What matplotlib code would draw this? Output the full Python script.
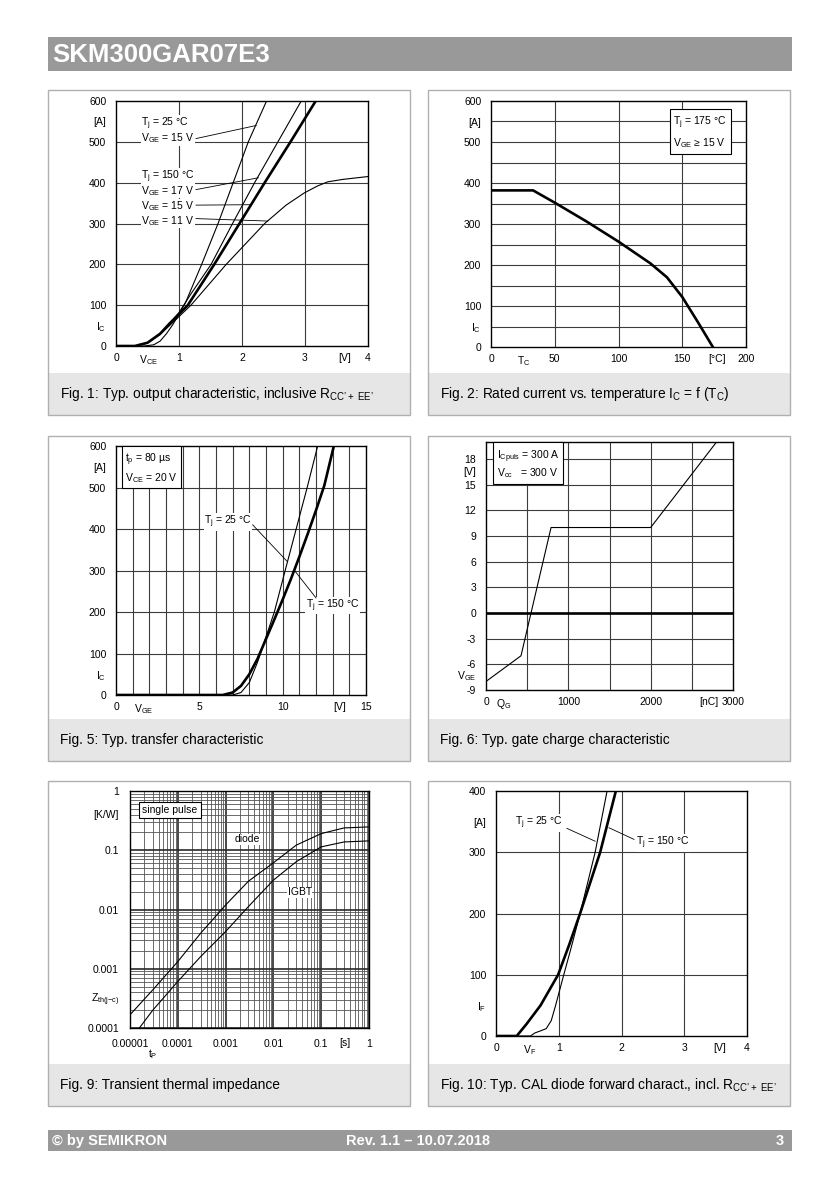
import matplotlib
matplotlib.use('Agg')
import matplotlib.pyplot as plt
from matplotlib.patches import Rectangle

plt.rcParams['font.family'] = ['Liberation Sans', 'DejaVu Sans']
plt.rcParams['mathtext.fontset'] = 'custom'
plt.rcParams['mathtext.rm'] = 'Liberation Sans'
plt.rcParams['mathtext.it'] = 'Liberation Sans:italic'
plt.rcParams['mathtext.bf'] = 'Liberation Sans:bold'

W, H = 836, 1186

# ---- Fig. 1 output characteristic ----
f1_25_v = [0, 0.45, 0.6, 0.7, 0.8, 0.9, 1.0, 1.1, 1.36, 1.62, 1.86, 2.1, 2.39]
f1_25_i = [0, 0, 3, 12, 30, 52, 78, 105, 200, 300, 400, 500, 600]
f1_17_v = [0, 0.3, 0.5, 0.7, 0.85, 1.0, 1.2, 1.51, 1.85, 2.2, 2.57, 2.94]
f1_17_i = [0, 0, 8, 30, 55, 82, 130, 200, 300, 400, 500, 600]
f1_15_v = [0, 0.3, 0.5, 0.7, 0.85, 1.0, 1.14, 1.56, 1.96, 2.36, 2.77, 3.17]
f1_15_i = [0, 0, 8, 30, 55, 78, 100, 200, 300, 400, 500, 600]
f1_11_v = [0, 0.3, 0.5, 0.7, 0.85, 1.0, 1.19, 1.75, 2.36, 2.7, 2.99, 3.2, 3.36, 3.6, 4.0]
f1_11_i = [0, 0, 7, 28, 50, 72, 100, 200, 300, 345, 375, 392, 402, 408, 415]

# ---- Fig. 2 rated current vs temperature ----
f2_t = [0, 33, 50, 75, 100, 125, 138, 150, 162, 174]
f2_i = [382, 382, 352, 306, 257, 204, 170, 122, 62, 0]

# ---- Fig. 5 transfer characteristic ----
f5_150_v = [0, 6.4, 7.0, 7.5, 8.0, 8.5, 9.0, 9.5, 10.0, 10.5, 11.0, 11.5, 12.0, 12.5, 13.07]
f5_150_i = [0, 0, 6, 22, 50, 88, 135, 182, 230, 280, 333, 388, 445, 505, 600]
f5_25_v = [0, 7.0, 7.5, 8.0, 8.5, 8.9, 9.5, 10.15, 10.81, 11.47, 12.1]
f5_25_i = [0, 0, 6, 30, 80, 128, 200, 300, 400, 500, 600]

# ---- Fig. 6 gate charge ----
f6_q = [0, 425, 790, 2000, 2800]
f6_v = [-8, -5, 10, 10, 20]

# ---- Fig. 9 transient thermal impedance ----
f9_t = [1e-5, 3e-5, 1e-4, 3e-4, 1e-3, 3e-3, 1e-2, 3e-2, 1e-1, 3e-1, 1]
f9_diode = [1.67e-4, 4.4e-4, 1.32e-3, 3.97e-3, 0.0119, 0.030, 0.0614, 0.122, 0.191, 0.238, 0.248]
f9_igbt_t = [1.57e-5, 3e-5, 1e-4, 3e-4, 1e-3, 3e-3, 1e-2, 3e-2, 1e-1, 3e-1, 1]
f9_igbt = [1e-4, 2.0e-4, 6.1e-4, 1.6e-3, 4.24e-3, 0.0112, 0.0313, 0.064, 0.114, 0.138, 0.144]

# ---- Fig. 10 diode forward characteristic ----
f10_150_v = [0, 0.33, 0.49, 0.71, 0.99, 1.17, 1.34, 1.66, 1.91]
f10_150_i = [0, 0, 20, 50, 100, 150, 200, 300, 400]
f10_25_v = [0, 0.55, 0.62, 0.7, 0.8, 0.88, 0.95, 1.08, 1.2, 1.34, 1.58, 1.77]
f10_25_i = [0, 0, 5, 8, 12, 25, 50, 100, 145, 200, 300, 400]

GRID = '#3c3c3c'
THIN = 0.8
THICK = 1.9
FS = 7.5
WHITE_BG = dict(fc='white', ec='none', pad=0.4)
BOX = dict(boxstyle='square,pad=0.35', fc='white', ec='black', lw=0.8)

fig = plt.figure(figsize=(W / 100, H / 100), dpi=100)
bg = fig.add_axes([0, 0, 1, 1])
bg.set_xlim(0, W)
bg.set_ylim(H, 0)
bg.axis('off')

# header / footer
bg.add_patch(Rectangle((48, 37), 744, 34, fc='#999999', ec='none'))
bg.text(52, 55, 'SKM300GAR07E3', color='white', fontsize=18.5, fontweight='bold', va='center')
bg.add_patch(Rectangle((48, 1130), 744, 21, fc='#999999', ec='none'))
bg.text(52, 1141, '© by SEMIKRON', color='white', fontsize=10.5, fontweight='bold', va='center')
bg.text(418, 1141, 'Rev. 1.1 – 10.07.2018', color='white', fontsize=10.5, fontweight='bold', va='center', ha='center')
bg.text(784, 1141, '3', color='white', fontsize=10.5, fontweight='bold', va='center', ha='right')

captions = [
    (48, 90, r"Fig. 1: Typ. output characteristic, inclusive R$_\mathrm{CC’+\ EE’}$"),
    (428, 90, r"Fig. 2: Rated current vs. temperature I$_\mathrm{C}$ = f (T$_\mathrm{C}$)"),
    (48, 436, "Fig. 5: Typ. transfer characteristic"),
    (428, 436, "Fig. 6: Typ. gate charge characteristic"),
    (48, 781, "Fig. 9: Transient thermal impedance"),
    (428, 781, r"Fig. 10: Typ. CAL diode forward charact., incl. R$_\mathrm{CC’+\ EE’}$"),
]
for x0, y0, cap in captions:
    bg.add_patch(Rectangle((x0, y0 + 283), 362, 42, fc='#e6e6e6', ec='none'))
    bg.add_patch(Rectangle((x0, y0), 362, 325, fc='none', ec='#b0b0b0', lw=1.0))
    bg.text(x0 + 12, y0 + 304, cap, fontsize=9.9, va='center', ha='left')


def px_axes(l, t, r, b):
    return fig.add_axes([l / W, 1 - b / H, (r - l) / W, (b - t) / H])


def style(ax, xgrid=None, ygrid=None):
    for s in ax.spines.values():
        s.set_linewidth(1.0)
        s.set_color('black')
    ax.xaxis.remove_overlapping_locs = False
    ax.yaxis.remove_overlapping_locs = False
    ax.tick_params(which='both', length=0, labelsize=FS)
    ax.tick_params(axis='x', pad=5)
    ax.tick_params(axis='y', pad=7)
    if xgrid is not None:
        ax.set_xticks(xgrid, minor=True)
    if ygrid is not None:
        ax.set_yticks(ygrid, minor=True)
    ax.grid(which='minor', color=GRID, lw=0.8)
    ax.set_axisbelow(True)
    ax.set_facecolor('white')


# ---- Fig. 1 ----
ax1 = px_axes(116, 101, 368, 346)
ax1.set_xlim(0, 4)
ax1.set_ylim(0, 600)
style(ax1, [1, 2, 3], [100, 200, 300, 400, 500])
ax1.set_xticks([0, 0.52, 1, 2, 3, 3.63, 4], ['0', r'V$_\mathrm{CE}$', '1', '2', '3', '[V]', '4'])
ax1.set_yticks([0, 50, 100, 200, 300, 400, 500, 550, 600],
               ['0', r'I$_\mathrm{C}$', '100', '200', '300', '400', '500', '[A]', '600'])
ax1.plot(f1_25_v, f1_25_i, color='black', lw=THIN)
ax1.plot(f1_17_v, f1_17_i, color='black', lw=THIN)
ax1.plot(f1_15_v, f1_15_i, color='black', lw=THICK)
ax1.plot(f1_11_v, f1_11_i, color='black', lw=THIN)
for y, s in [(545, r'T$_\mathrm{j}$ = 25 °C'), (508, r'V$_\mathrm{GE}$ = 15 V'),
             (414, r'T$_\mathrm{j}$ = 150 °C'), (380, r'V$_\mathrm{GE}$ = 17 V'),
             (343, r'V$_\mathrm{GE}$ = 15 V'), (307, r'V$_\mathrm{GE}$ = 11 V')]:
    ax1.text(0.40, y, s, fontsize=FS, va='center', ha='left', bbox=WHITE_BG)
for (xa, ya), (xb, yb) in [((1.27, 508), (2.225, 540)), ((1.27, 383), (2.26, 412)),
                           ((1.27, 345), (2.12, 346)), ((1.27, 312), (2.41, 306))]:
    ax1.plot([xa, xb], [ya, yb], color='black', lw=0.6, zorder=4)

# ---- Fig. 2 ----
ax2 = px_axes(491, 101, 746, 347)
ax2.set_xlim(0, 200)
ax2.set_ylim(0, 600)
style(ax2, [50, 100, 150], list(range(50, 600, 50)))
ax2.set_xticks([0, 26, 50, 100, 150, 177, 200], ['0', r'T$_\mathrm{C}$', '50', '100', '150', '[°C]', '200'])
ax2.set_yticks([0, 50, 100, 200, 300, 400, 500, 550, 600],
               ['0', r'I$_\mathrm{C}$', '100', '200', '300', '400', '500', '[A]', '600'])
ax2.plot(f2_t, f2_i, color='black', lw=THICK)
ax2.text(143, 523, 'T$_\\mathrm{j}$ = 175 °C\nV$_\\mathrm{GE}$ ≥ 15 V', fontsize=FS, va='center',
         ha='left', bbox=BOX, linespacing=1.5)

# ---- Fig. 5 ----
ax5 = px_axes(116, 446, 366, 695)
ax5.set_xlim(0, 15)
ax5.set_ylim(0, 600)
style(ax5, list(range(1, 15)), [100, 200, 300, 400, 500])
ax5.set_xticks([0, 1.64, 5, 10, 13.4, 15], ['0', r'V$_\mathrm{GE}$', '5', '10', '[V]', '15'])
ax5.set_yticks([0, 50, 100, 200, 300, 400, 500, 550, 600],
               ['0', r'I$_\mathrm{C}$', '100', '200', '300', '400', '500', '[A]', '600'])
ax5.plot(f5_25_v, f5_25_i, color='black', lw=THIN)
ax5.plot(f5_150_v, f5_150_i, color='black', lw=THICK)
ax5.text(6.72, 417, r'T$_\mathrm{j}$ = 25 °C', fontsize=FS, va='center', ha='center', bbox=WHITE_BG)
ax5.text(13.0, 216, r'T$_\mathrm{j}$ = 150 °C', fontsize=FS, va='center', ha='center', bbox=WHITE_BG)
ax5.plot([8.2, 10.27], [410, 322], color='black', lw=0.6, zorder=4)
ax5.plot([12.0, 10.71], [234, 300], color='black', lw=0.6, zorder=4)
ax5.text(0.55, 547, 't$_\\mathrm{p}$ = 80 µs\nV$_\\mathrm{CE}$ = 20 V', fontsize=FS, va='center',
         ha='left', bbox=BOX, linespacing=1.3)

# ---- Fig. 6 ----
ax6 = px_axes(486, 442, 733, 690)
ax6.set_xlim(0, 3000)
ax6.set_ylim(-9, 20)
style(ax6, [500, 1000, 1500, 2000, 2500], [-6, -3, 3, 6, 9, 12, 15, 18])
ax6.set_xticks([0, 215, 1000, 2000, 2704, 3000], ['0', r'Q$_\mathrm{G}$', '1000', '2000', '[nC]', '3000'])
ax6.set_yticks([-9, -7.2, -6, -3, 0, 3, 6, 9, 12, 15, 16.6, 18],
               ['-9', r'V$_\mathrm{GE}$', '-6', '-3', '0', '3', '6', '9', '12', '15', '[V]', '18'])
ax6.axhline(0, color='black', lw=THICK)
ax6.plot(f6_q, f6_v, color='black', lw=THIN)
ax6.text(130, 17.4, 'I$_\\mathrm{Cpuls}$ = 300 A\nV$_\\mathrm{cc}$   = 300 V', fontsize=FS, va='center',
         ha='left', bbox=BOX, linespacing=1.2)

# ---- Fig. 9 ----
ax9 = px_axes(130, 791, 369, 1028)
ax9.set_xscale('log')
ax9.set_yscale('log')
ax9.set_xlim(1e-5, 1)
ax9.set_ylim(1e-4, 1)
for s in ax9.spines.values():
    s.set_linewidth(1.0)
ax9.tick_params(which='both', length=0, labelsize=FS)
ax9.tick_params(axis='x', pad=8)
ax9.tick_params(axis='y', pad=8)
xt = [1e-5, 1e-4, 1e-3, 1e-2, 1e-1, 1]
ax9.set_xticks(xt, ['0.00001', '0.0001', '0.001', '0.01', '0.1', '1'])
ax9.set_xticks([k * d for d in xt[:-1] for k in range(2, 10)], minor=True)
ax9.set_xticklabels([], minor=True)
yt = [1e-4, 1e-3, 1e-2, 1e-1, 1]
ax9.set_yticks(yt, ['0.0001', '0.001', '0.01', '0.1', '1'])
ax9.set_yticks([k * d for d in yt[:-1] for k in range(2, 10)], minor=True)
ax9.set_yticklabels([], minor=True)
ax9.grid(which='major', color='#2a2a2a', lw=1.2)
ax9.grid(which='minor', color='#555555', lw=0.6)
ax9.set_axisbelow(True)
ax9.annotate('[K/W]', xy=(1e-5, 0.39), xytext=(-11, 0), textcoords='offset pixels',
             fontsize=FS, ha='right', va='center', annotation_clip=False)
ax9.annotate(r'Z$_\mathrm{th(j{-}c)}$', xy=(1e-5, 3.0e-4), xytext=(-11, 0), textcoords='offset pixels',
             fontsize=FS, ha='right', va='center', annotation_clip=False)
ax9.annotate('[s]', xy=(0.31, 1e-4), xytext=(0, -15), textcoords='offset pixels',
             fontsize=FS, ha='center', va='center', annotation_clip=False)
ax9.annotate(r't$_\mathrm{P}$', xy=(3e-5, 1e-4), xytext=(0, -26), textcoords='offset pixels',
             fontsize=FS, ha='center', va='center', annotation_clip=False)
ax9.plot(f9_t, f9_diode, color='black', lw=THIN)
ax9.plot(f9_igbt_t, f9_igbt, color='black', lw=THIN)
ax9.text(1.8e-5, 0.473, 'single pulse', fontsize=FS, va='center', ha='left',
         bbox=dict(boxstyle='square,pad=0.3', fc='white', ec='black', lw=0.8))
ax9.text(2.8e-3, 0.152, 'diode', fontsize=FS, va='center', ha='center', bbox=WHITE_BG)
ax9.text(0.0356, 0.0195, 'IGBT', fontsize=FS, va='center', ha='center', bbox=WHITE_BG)

# ---- Fig. 10 ----
ax10 = px_axes(496, 791, 747, 1036)
ax10.set_xlim(0, 4)
ax10.set_ylim(0, 400)
style(ax10, [1, 2, 3], [100, 200, 300])
ax10.set_xticks([0, 0.54, 1, 2, 3, 3.56, 4], ['0', r'V$_\mathrm{F}$', '1', '2', '3', '[V]', '4'])
ax10.set_yticks([0, 50, 100, 200, 300, 350, 400],
                ['0', r'I$_\mathrm{F}$', '100', '200', '300', '[A]', '400'])
ax10.plot(f10_25_v, f10_25_i, color='black', lw=THIN)
ax10.plot(f10_150_v, f10_150_i, color='black', lw=THICK)
ax10.text(0.68, 348, r'T$_\mathrm{j}$ = 25 °C', fontsize=FS, va='center', ha='center', bbox=WHITE_BG)
ax10.text(2.66, 315, r'T$_\mathrm{j}$ = 150 °C', fontsize=FS, va='center', ha='center', bbox=WHITE_BG)
ax10.plot([1.13, 1.58], [339, 318], color='black', lw=0.6, zorder=4)
ax10.plot([2.2, 1.80], [321, 340], color='black', lw=0.6, zorder=4)

fig.savefig('out.png', dpi=100, facecolor='white')
